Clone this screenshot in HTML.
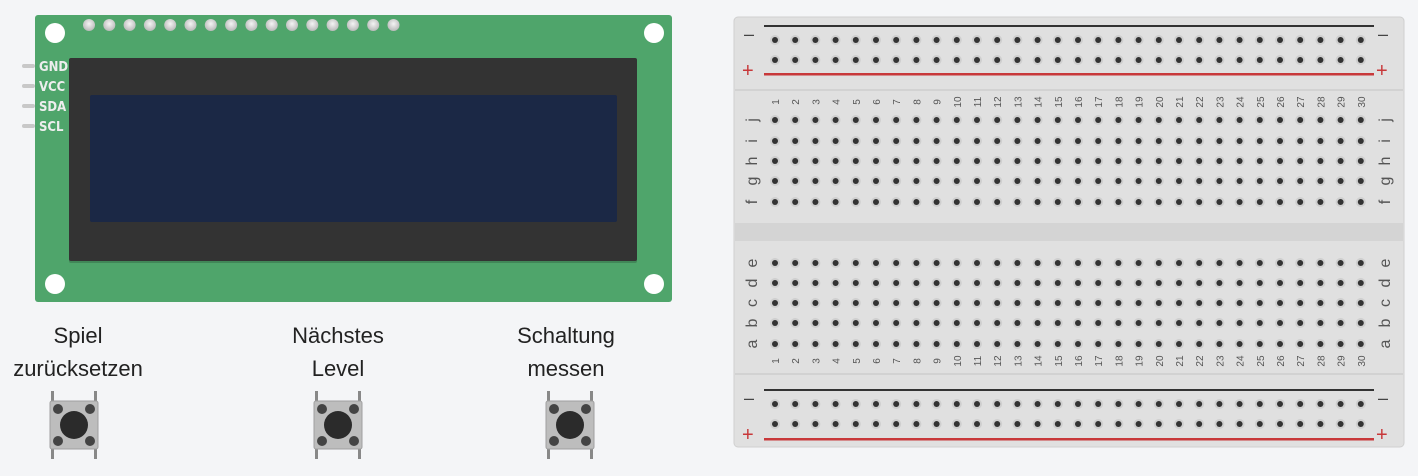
<!DOCTYPE html><html><head><meta charset="utf-8"><style>
html,body{margin:0;width:1418px;height:476px;background:#f4f5f7;overflow:hidden;font-family:"Liberation Sans",sans-serif}
svg{display:block}
</style></head><body>
<svg width="1418" height="476" xmlns="http://www.w3.org/2000/svg">
<defs>
<radialGradient id="pin" cx="50%" cy="40%" r="60%"><stop offset="0" stop-color="#f4f4f4"/><stop offset="1" stop-color="#b8b8b8"/></radialGradient>
<g id="hole"><circle r="5" fill="#cfcfcf"/><circle r="3" fill="#333"/></g>
<g id="btn">
<rect x="-23" y="-34" width="3" height="68" fill="#888"/><rect x="20" y="-34" width="3" height="68" fill="#888"/>
<rect x="-24" y="-24" width="48" height="48" rx="2" fill="#bdbdbd" stroke="#a0a0a0"/>
<circle cx="-16" cy="-16" r="5" fill="#444"/><circle cx="16" cy="-16" r="5" fill="#444"/>
<circle cx="-16" cy="16" r="5" fill="#444"/><circle cx="16" cy="16" r="5" fill="#444"/>
<circle r="14" fill="#2b2b2b"/>
</g>
</defs>
<rect x="35" y="15" width="637" height="287" rx="3" fill="#4fa56b"/>
<g id="pins"></g>
<rect x="69" y="60" width="568" height="203" rx="2" fill="#2e5a3c" opacity="0.4"/>
<rect x="69" y="58" width="568" height="203" rx="2" fill="#333"/>
<rect x="90" y="95" width="527" height="127" rx="2" fill="#1b2845"/>
<circle cx="55" cy="33" r="10" fill="#fff"/><circle cx="654" cy="33" r="10" fill="#fff"/>
<circle cx="55" cy="284" r="10" fill="#fff"/><circle cx="654" cy="284" r="10" fill="#fff"/>
<g fill="#c8c8c8"><rect x="22" y="64" width="13" height="4" rx="2"/><rect x="22" y="84" width="13" height="4" rx="2"/><rect x="22" y="104" width="13" height="4" rx="2"/><rect x="22" y="124" width="13" height="4" rx="2"/></g>
<g fill="#eee" font-size="13" font-weight="bold" font-family="DejaVu Sans Condensed,DejaVu Sans,sans-serif"><text x="39" y="71">GND</text><text x="39" y="91">VCC</text><text x="39" y="111">SDA</text><text x="39" y="131">SCL</text></g>
<g font-size="22" fill="#222" text-anchor="middle">
<text x="78" y="343">Spiel</text><text x="78" y="376">zurücksetzen</text>
<text x="338" y="343">Nächstes</text><text x="338" y="376">Level</text>
<text x="566" y="343">Schaltung</text><text x="566" y="376">messen</text>
</g>
<use href="#btn" x="74" y="425"/><use href="#btn" x="338" y="425"/><use href="#btn" x="570" y="425"/>
<rect x="734" y="17" width="670" height="430" rx="4" fill="#e0e0e0" stroke="#cfcfcf"/>
<rect x="735" y="89" width="668" height="2" fill="#d2d2d2"/>
<rect x="735" y="223" width="668" height="18" fill="#d4d4d4"/>
<rect x="735" y="373" width="668" height="2" fill="#d2d2d2"/>
<rect x="764" y="25" width="610" height="2" fill="#333"/><rect x="764" y="73" width="610" height="2.5" fill="#c8383a"/>
<rect x="764" y="389" width="610" height="2" fill="#333"/><rect x="764" y="438" width="610" height="2.5" fill="#c8383a"/>
<g fill="#444" font-size="18"><text x="744" y="40">–</text><text x="1378" y="40">–</text><text x="744" y="404">–</text><text x="1378" y="404">–</text></g>
<g fill="#c8383a" font-size="20"><text x="742" y="77">+</text><text x="1376" y="77">+</text><text x="742" y="441">+</text><text x="1376" y="441">+</text></g>
<g id="bb"></g>
</svg>
<script>
var ns="http://www.w3.org/2000/svg",p=document.getElementById("pins"),bb=document.getElementById("bb");
for(var i=0;i<16;i++){var c=document.createElementNS(ns,"circle");c.setAttribute("cx",89+i*20.3);c.setAttribute("cy",25);c.setAttribute("r",6);c.setAttribute("fill","url(#pin)");p.appendChild(c);}
function u(x,y){var e=document.createElementNS(ns,"use");e.setAttribute("href","#hole");e.setAttribute("x",x);e.setAttribute("y",y);bb.appendChild(e);}
function t(s,x,y,f){var e=document.createElementNS(ns,"text");e.textContent=s;e.setAttribute("transform","translate("+x+","+y+") rotate(-90)");e.setAttribute("font-size",f);e.setAttribute("fill","#555");e.setAttribute("text-anchor","middle");bb.appendChild(e);}
var rows=[40,60,120,141,161,181,202,263,283,303,323,344,404,424];
for(var i=0;i<30;i++){var x=775+i*20.2;rows.forEach(function(y){u(x,y)});t(""+(i+1),x+4,102,"10");t(""+(i+1),x+4,361,"10");}
var L=["j","i","h","g","f","e","d","c","b","a"],Y=[120,141,161,181,202,263,283,303,323,344];
for(var k=0;k<10;k++){t(L[k],757,Y[k],"16");t(L[k],1390,Y[k],"16");}
</script>
</body></html>
